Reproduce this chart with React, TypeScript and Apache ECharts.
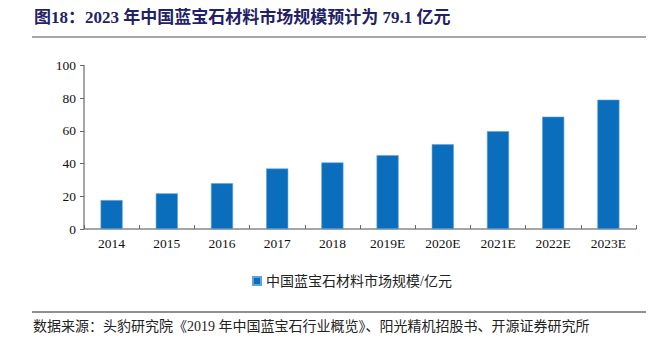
import React, { useEffect, useRef } from "react";
import * as echarts from "echarts";

const categories = ["2014", "2015", "2016", "2017", "2018", "2019E", "2020E", "2021E", "2022E", "2023E"];
const marketSize = [17.7, 21.8, 28.0, 37.0, 40.7, 45.1, 51.8, 59.8, 68.7, 79.1];
const seriesName = "中国蓝宝石材料市场规模/亿元";
const titleText = "图18：2023 年中国蓝宝石材料市场规模预计为 79.1 亿元";
const sourceText = "数据来源：头豹研究院《2019 年中国蓝宝石行业概览》、阳光精机招股书、开源证券研究所";

const serif = "'Liberation Serif', 'Times New Roman', 'Noto Sans CJK SC', serif";

export default function App() {
  const ref = useRef<HTMLDivElement>(null);
  useEffect(() => {
    if (!ref.current) return;
    const chart = echarts.init(ref.current, null, { renderer: "svg" });
    chart.setOption({
      animation: false,
      backgroundColor: "#ffffff",
      grid: { left: 84, right: 18, top: 65.5, bottom: 124 },
      legend: {
        data: [seriesName],
        top: 269,
        left: 247,
        itemWidth: 8,
        itemHeight: 8,
        itemGap: 4,
        icon: "rect",
        textStyle: { fontFamily: serif, fontSize: 14, color: "#222" },
      },
      xAxis: {
        type: "category",
        data: categories,
        axisLine: { lineStyle: { color: "#888", width: 1.5 } },
        axisTick: { show: true, inside: true, length: 4, lineStyle: { color: "#666" } },
        axisLabel: { fontFamily: serif, fontSize: 13.5, color: "#111", margin: 8 },
      },
      yAxis: {
        type: "value",
        min: 0,
        max: 100,
        interval: 20,
        splitLine: { show: false },
        axisLine: { show: true, lineStyle: { color: "#888", width: 1.5 } },
        axisTick: { show: true, length: 4, lineStyle: { color: "#666" } },
        axisLabel: { fontFamily: serif, fontSize: 13.5, color: "#111", margin: 8 },
      },
      series: [
        {
          name: seriesName,
          type: "bar",
          data: marketSize,
          barWidth: "40%",
          itemStyle: { color: "#0A6EBD", borderColor: "#5FA3DD", borderWidth: 0.6 },
        },
      ],
      graphic: [
        {
          type: "text",
          left: 34,
          top: 9,
          style: {
            text: titleText,
            fontFamily: serif,
            fontSize: 17,
            fontWeight: "bold",
            fill: "#1F2266",
          },
        },
        {
          type: "line",
          shape: { x1: 32, y1: 37, x2: 646, y2: 37 },
          style: { stroke: "#888", lineWidth: 1.5 },
        },
        {
          type: "line",
          shape: { x1: 32, y1: 312, x2: 646, y2: 312 },
          style: { stroke: "#222", lineWidth: 1 },
        },
        {
          type: "text",
          left: 33,
          top: 319,
          style: {
            text: sourceText,
            fontFamily: serif,
            fontSize: 14,
            fill: "#222",
          },
        },
      ],
    });
    return () => chart.dispose();
  }, []);
  return <div ref={ref} style={{ position: "absolute", left: 0, top: 0, width: 654, height: 353 }} />;
}
